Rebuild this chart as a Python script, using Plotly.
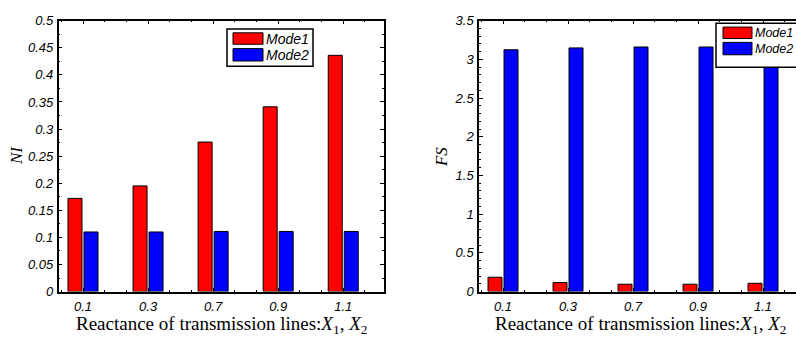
import plotly.graph_objects as go

# ---- data ----
categories = ["0.1", "0.3", "0.7", "0.9", "1.1"]
ni_mode1 = [0.172, 0.195, 0.276, 0.341, 0.436]
ni_mode2 = [0.110, 0.110, 0.111, 0.111, 0.111]
fs_mode1 = [0.185, 0.116, 0.095, 0.095, 0.107]
fs_mode2 = [3.124, 3.148, 3.160, 3.160, 3.158]
series_names = ["Mode1", "Mode2"]
series_colors = ["#ff0000", "#0000ff"]

W, H = 796, 340
pos = [i + 1 for i in range(len(categories))]

fig = go.Figure()
BW = 0.215
offsets = [-0.231, 0.015]

for (vals1, vals2, xa, ya) in [(ni_mode1, ni_mode2, "x", "y"), (fs_mode1, fs_mode2, "x2", "y2")]:
    for k, vals in enumerate([vals1, vals2]):
        fig.add_trace(go.Bar(
            x=pos, y=vals, name=series_names[k], xaxis=xa, yaxis=ya,
            width=BW, offset=offsets[k],
            marker=dict(color=series_colors[k], line=dict(color="black", width=1)),
            showlegend=False,
        ))

def px(x):
    return x / W

def py(y):
    return 1 - y / H

tickfont = dict(family="Liberation Sans, Arial", size=13, color="black", style="italic")

common_x = dict(
    tickvals=pos, ticktext=categories, ticks="inside", ticklen=4, tickwidth=1,
    tickcolor="black", showline=True, linecolor="black", linewidth=1.5,
    showgrid=False, zeroline=False, tickfont=tickfont, ticklabelstandoff=2,
    minor=dict(dtick=1/3, tick0=1, ticks="inside", ticklen=2, tickcolor="black"),
)
common_y = dict(
    ticks="inside", ticklen=4, tickwidth=1, tickcolor="black", showline=True,
    linecolor="black", linewidth=1.5, showgrid=False, zeroline=False, tickfont=tickfont,
    ticklabelstandoff=1,
)

ydom = [py(297.7), py(14.3)]

fig.update_layout(
    width=W, height=H,
    margin=dict(l=0, r=0, t=0, b=0),
    paper_bgcolor="white", plot_bgcolor="white",
    barmode="overlay",
    xaxis=dict(domain=[px(58.7), px(384)], range=[0.626, 5.626], anchor="y",
               mirror="allticks", **common_x),
    yaxis=dict(domain=ydom, range=[0, 0.5], dtick=0.05, tick0=0, anchor="x",
               mirror="allticks",
               minor=dict(dtick=0.025, ticks="inside", ticklen=2, tickcolor="black"),
               **common_y),
    xaxis2=dict(domain=[px(479), 1.0], range=[0.63, 0.63 + (796 - 479) / 65.0], anchor="y2",
                mirror="allticks", **common_x),
    yaxis2=dict(domain=ydom, range=[0, 3.5], dtick=0.5, tick0=0, anchor="x2",
                mirror=False,
                minor=dict(dtick=0.1, ticks="inside", ticklen=2, tickcolor="black"),
                **common_y),
)

serif = "Liberation Serif, Times New Roman, serif"
annotations = []
shapes = []

# axis titles
xtitle = "Reactance of transmission lines:<i>X</i><sub>1</sub>, <i>X</i><sub>2</sub>"
for cx in (221, 640):
    annotations.append(dict(text=xtitle, x=px(cx), y=py(333), xref="paper", yref="paper",
                            showarrow=False, font=dict(family=serif, size=19, color="black"),
                            xanchor="center", yanchor="middle"))
annotations.append(dict(text="<i>NI</i>", x=px(16), y=py(156), xref="paper", yref="paper",
                        showarrow=False, textangle=-90,
                        font=dict(family=serif, size=17, color="black"),
                        xanchor="center", yanchor="middle"))
annotations.append(dict(text="<i>FS</i>", x=px(441), y=py(157), xref="paper", yref="paper",
                        showarrow=False, textangle=-90,
                        font=dict(family=serif, size=17, color="black"),
                        xanchor="center", yanchor="middle"))

# custom legends
def legend(box, sw_x, rows, text_x, fsize):
    x0, x1, y0, y1 = box
    shapes.append(dict(type="rect", xref="paper", yref="paper",
                       x0=px(x0), x1=px(x1), y0=py(y1), y1=py(y0),
                       line=dict(color="black", width=1.5), fillcolor="white", layer="above"))
    for k, (ry0, ry1) in enumerate(rows):
        shapes.append(dict(type="rect", xref="paper", yref="paper",
                           x0=px(sw_x[0]), x1=px(sw_x[1]), y0=py(ry1), y1=py(ry0),
                           line=dict(color="black", width=1), fillcolor=series_colors[k],
                           layer="above"))
        annotations.append(dict(text=series_names[k], x=px(text_x), y=py((ry0 + ry1) / 2),
                                xref="paper", yref="paper", showarrow=False,
                                xanchor="left", yanchor="middle",
                                font=dict(family="Liberation Sans, Arial", size=fsize,
                                          color="black", style="italic")))

legend((227, 313, 23, 62), (233, 263), [(27, 39), (43.5, 56.5)], 264, 14)
legend((716, 830, 17, 63), (723, 752), [(21, 33), (37, 50)], 753, 12.5)

fig.update_layout(annotations=annotations, shapes=shapes)

fig.write_html("out.html", config={"displayModeBar": False},
               post_script="document.body.style.margin='0';document.body.style.overflow='hidden';")
